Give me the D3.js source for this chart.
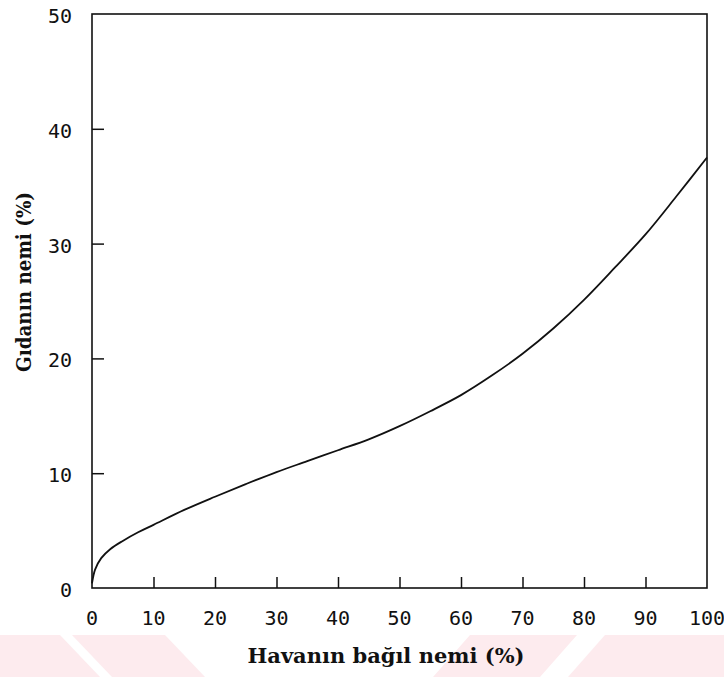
<!DOCTYPE html>
<html>
<head>
<meta charset="utf-8">
<script src="https://cdn.jsdelivr.net/npm/d3@7"></script>
<style>
  html, body { margin: 0; padding: 0; background: #fff; }
  svg { display: block; }
  .tick-label { font-family: "DejaVu Sans Mono", monospace; font-size: 20px; fill: #111; }
  .axis-title { font-family: "DejaVu Serif", "Liberation Serif", serif; font-weight: bold; font-size: 20px; fill: #111; }
</style>
</head>
<body>
<svg id="chart" width="724" height="677"></svg>
<script>
// Sorption isotherm: food moisture vs. relative humidity of air
const relHumidity = [0, 0.5, 1.5, 3, 5, 7.5, 10, 15, 20, 25, 30, 35, 40, 45, 50, 55, 60, 65, 70, 75, 80, 85, 90, 95, 100];
const foodMoisture = [0.4, 1.6, 2.6, 3.4, 4.1, 4.85, 5.5, 6.8, 7.95, 9.05, 10.1, 11.05, 12.0, 12.95, 14.1, 15.4, 16.8, 18.5, 20.4, 22.6, 25.1, 27.9, 30.8, 34.1, 37.5];

const xTicks = [0, 10, 20, 30, 40, 50, 60, 70, 80, 90, 100];
const yTicks = [0, 10, 20, 30, 40, 50];

const xTitle = "Havanın bağıl nemi (%)";
const yTitle = "Gıdanın nemi (%)";

const svg = d3.select("#chart");
const plot = { left: 92, right: 707, top: 14, bottom: 588 };

// faint diagonal band along the bottom edge
const band = [
  [[0, 635], [60, 635], [100, 677], [0, 677]],
  [[72, 635], [165, 635], [205, 677], [112, 677]],
  [[470, 635], [577, 635], [540, 677], [433, 677]],
  [[605, 635], [724, 635], [724, 677], [568, 677]]
];
svg.append("g").selectAll("polygon").data(band).join("polygon")
  .attr("points", d => d.map(p => p.join(",")).join(" "))
  .attr("fill", "#fdebee");

const x = d3.scaleLinear().domain([0, 100]).range([plot.left, plot.right]);
const y = d3.scaleLinear().domain([0, 50]).range([plot.bottom, plot.top]);

// frame
svg.append("rect")
  .attr("x", plot.left).attr("y", plot.top)
  .attr("width", plot.right - plot.left).attr("height", plot.bottom - plot.top)
  .attr("fill", "none").attr("stroke", "#111").attr("stroke-width", 1.6);

// inward ticks
const xAxis = d3.axisBottom(x).tickValues(xTicks.slice(1, -1)).tickSizeInner(-11).tickSizeOuter(0).tickFormat("");
const xg = svg.append("g").attr("transform", `translate(0,${plot.bottom})`).call(xAxis);
xg.select(".domain").remove();
xg.selectAll("line").attr("stroke", "#111").attr("stroke-width", 1.5);

const yAxis = d3.axisLeft(y).tickValues(yTicks.slice(1, -1)).tickSizeInner(-12).tickSizeOuter(0).tickFormat("");
const yg = svg.append("g").attr("transform", `translate(${plot.left},0)`).call(yAxis);
yg.select(".domain").remove();
yg.selectAll("line").attr("stroke", "#111").attr("stroke-width", 1.5);

// tick labels
svg.append("g").selectAll("text").data(xTicks).join("text")
  .attr("class", "tick-label")
  .attr("x", d => x(d)).attr("y", plot.bottom + 37)
  .attr("text-anchor", "middle")
  .text(d => d);

svg.append("g").selectAll("text").data(yTicks).join("text")
  .attr("class", "tick-label")
  .attr("x", 72).attr("y", d => y(d) + 9)
  .attr("text-anchor", "end")
  .text(d => d);

// axis titles
svg.append("text").attr("class", "axis-title")
  .attr("x", 386).attr("y", 663)
  .attr("text-anchor", "middle")
  .attr("textLength", 277).attr("lengthAdjust", "spacingAndGlyphs")
  .text(xTitle);

svg.append("text").attr("class", "axis-title")
  .attr("transform", "translate(31,282) rotate(-90)")
  .attr("text-anchor", "middle")
  .attr("textLength", 180).attr("lengthAdjust", "spacingAndGlyphs")
  .text(yTitle);

// curve
const pts = relHumidity.map((h, i) => [h, foodMoisture[i]]);
svg.append("path")
  .datum(pts)
  .attr("fill", "none")
  .attr("stroke", "#111")
  .attr("stroke-width", 1.8)
  .attr("d", d3.line().x(d => x(d[0])).y(d => y(d[1])).curve(d3.curveCatmullRom.alpha(0.5)));
</script>
</body>
</html>
